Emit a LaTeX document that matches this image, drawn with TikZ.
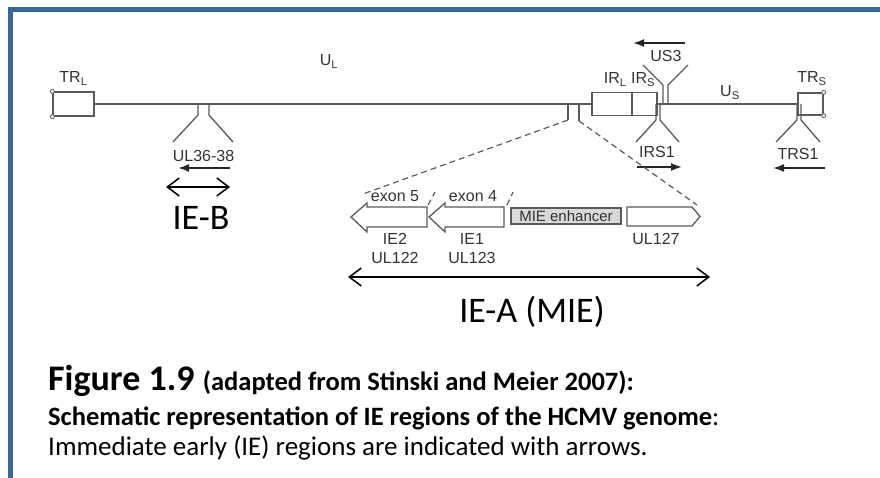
\documentclass[tikz,border=0pt]{standalone}
\usepackage{fontspec}
\setmainfont{Carlito}
\newfontfamily\arialf{Liberation Sans}
\usetikzlibrary{arrows.meta}
\definecolor{frameblue}{HTML}{3D6596}
\definecolor{gline}{HTML}{5A5A5A}
\definecolor{gtext}{HTML}{333333}
\definecolor{enh}{HTML}{D9D9D9}
\begin{document}
\begin{tikzpicture}[x=1pt,y=-1pt,
  glab/.style={font=\arialf\fontsize{16}{18}\selectfont, text=gtext, inner sep=0pt, anchor=base},
  gbox/.style={draw=gline, line width=1.3pt, fill=white, inner sep=0pt},
  gl/.style={draw=gline, line width=1.3pt},
  gdash/.style={draw=gline, line width=1.2pt, dash pattern=on 6pt off 4pt},
  fwd/.style={draw=black!85, line width=1.8pt, -{Latex[length=11pt,width=8pt]}},
  dbl/.style={black, line width=1.5pt, {Straight Barb[length=12pt,width=18pt]}-{Straight Barb[length=12pt,width=18pt]}},
  big/.style={font=\fontsize{36}{40}\selectfont, inner sep=0pt, anchor=base},
  capline/.style={inner sep=0pt, anchor=base west},
  corner/.style={circle, draw=gline, fill=white, line width=0.8pt, inner sep=0pt, minimum size=4pt}
]
\useasboundingbox (0,0) rectangle (880,478);
\fill[white] (0,0) rectangle (880,478);
% frame
\draw[frameblue, line width=5pt] (10.5,478) -- (10.5,9.5) -- (880,9.5);

% genome boxes
\node[gbox, minimum width=41pt, minimum height=24pt] (trl) at (73.5,104) {};
\node[gbox, minimum width=40pt, minimum height=23pt] (irl) at (612,104) {};
\node[gbox, minimum width=25pt, minimum height=23pt] (irs) at (644.5,104) {};
\node[gbox, minimum width=25pt, minimum height=22pt] (trs) at (810.5,104) {};
\node[corner] (c1) at (trl.north west) {};
\node[corner] (c2) at (trl.south west) {};
\node[corner] (c3) at (trs.north east) {};
\node[corner] (c4) at (trs.south east) {};
\draw[gl] (trl.east) -- (irl.west);
\draw[gl] (irs.east) -- (trs.west);

% region labels
\node[glab] (lTRL) at (73.5,83) {TR\textsubscript{L}};
\node[glab] (lUL) at (329,66) {U\textsubscript{L}};
\node[glab] (lIR) at (629.5,84) {IR\textsubscript{L} IR\textsubscript{S}};
\node[glab] (lUS) at (730,97) {U\textsubscript{S}};
\node[glab] (lTRS) at (812,83) {TR\textsubscript{S}};

% UL36-38 fork
\draw[gl] (198,104) -- (198,115) -- (173,142);
\draw[gl] (209,104) -- (209,115) -- (233,142);
\node[glab] (lUL36) at (203.5,162) {UL36-38};
\coordinate (a1s) at (230,168); \coordinate (a1e) at (178,168);
\draw[fwd] (a1s) -- (a1e);
\coordinate (ieb1) at (166,187); \coordinate (ieb2) at (230,187);
\draw[dbl] (ieb1) -- (ieb2);
\node[big] (lIEB) at (201,230) {IE-B};

% US3 fork (up)
\draw[gl] (663,104) -- (663,85) -- (643,65);
\draw[gl] (668,104) -- (668,85) -- (688,65);
\node[glab] (lUS3) at (666,62) {US3};
\coordinate (a2s) at (685,43); \coordinate (a2e) at (633,43);
\draw[fwd] (a2s) -- (a2e);

% IRS1 fork (down)
\draw[gl] (656,104) -- (656,120) -- (636,142);
\draw[gl] (660,104) -- (660,120) -- (679,142);
\node[glab] (lIRS1) at (657,158) {IRS1};
\coordinate (a3s) at (637,167); \coordinate (a3e) at (682,167);
\draw[fwd] (a3s) -- (a3e);

% TRS1 fork (down)
\draw[gl] (797,104) -- (797,120) -- (776,142);
\draw[gl] (801,104) -- (801,120) -- (820,142);
\node[glab] (lTRS1) at (798,160) {TRS1};
\coordinate (a4s) at (825,168); \coordinate (a4e) at (773,168);
\draw[fwd] (a4s) -- (a4e);

% MIE zoom lines
\draw[gl] (568,104) -- (568,120);
\draw[gl] (579,104) -- (579,121);
\draw[gdash] (568,120) -- (363,194);
\draw[gdash] (579,121) -- (697,205);
\draw[gdash] (428,205) -- (435,192);
\draw[gdash] (507,205) -- (513,192);

% gene arrows
\draw[gl, fill=white, line join=miter] (351,217) -- (367,203) -- (367,207) -- (427,207) -- (427,227) -- (367,227) -- (367,232) -- cycle;
\draw[gl, fill=white, line join=miter] (429,217) -- (445,203) -- (445,207) -- (504,207) -- (504,227) -- (445,227) -- (445,232) -- cycle;
\node[gbox, fill=enh, minimum width=110pt, minimum height=16pt, font=\arialf\fontsize{15}{17}\selectfont, text=gtext] (mie) at (566,216) {MIE enhancer};
\draw[gl, fill=white, line join=miter] (627,207) -- (692,207) -- (700,216.5) -- (692,226) -- (627,226) -- cycle;

\node[glab] (lex5) at (395,202) {exon 5};
\node[glab] (lex4) at (473,202) {exon 4};
\node[glab] (lIE2) at (395,245) {IE2};
\node[glab] (lUL122) at (395,263) {UL122};
\node[glab] (lIE1) at (472,245) {IE1};
\node[glab] (lUL123) at (472,263) {UL123};
\node[glab] (lUL127) at (656,245) {UL127};

\coordinate (iea1) at (348,277); \coordinate (iea2) at (710,277);
\draw[dbl] (iea1) -- (iea2);
\node[big] (lIEA) at (532,322) {IE-A (MIE)};

% caption
\node[capline] (cap1) at (48,390) {\bfseries\fontsize{36}{40}\selectfont Figure 1.9 \fontsize{26.5}{30}\selectfont(adapted from Stinski and Meier 2007):};
\node[capline] (cap2) at (48,425) {\fontsize{26.5}{30}\selectfont\textbf{Schematic representation of IE regions of the HCMV genome}:};
\node[capline] (cap3) at (48,455) {\fontsize{27}{30}\selectfont Immediate early (IE) regions are indicated with arrows.};
\end{tikzpicture}
\end{document}
